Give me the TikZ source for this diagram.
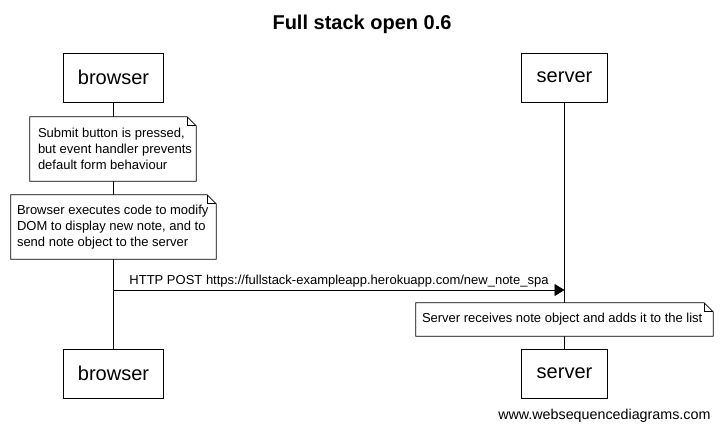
\documentclass[tikz,border=0pt]{standalone}
\usepackage{fontspec}
\setmainfont{Liberation Sans}
\usetikzlibrary{arrows.meta}
\begin{document}
\begin{tikzpicture}[x=1pt,y=-1pt,
  actor/.style={draw,fill=white,line width=0.8pt,minimum width=100pt,minimum height=49pt,inner sep=0pt,font=\fontsize{20}{24}\selectfont},
  notebox/.style={inner sep=0pt},
  notetext/.style={inner sep=0pt,align=left,anchor=west,font=\fontsize{13}{16}\selectfont},
  life/.style={line width=0.8pt},
  msg/.style={line width=0.8pt,-{Triangle[length=10pt,width=12pt]}},
  foldline/.style={line width=0.8pt,line join=miter}]
\useasboundingbox (0,0) rectangle (722,432);
\node[font=\bfseries\fontsize{20}{24}\selectfont] (title) at (362,24) {Full stack open 0.6};
\node[actor] (bt) at (113.5,77.5) {browser};
\node[actor,minimum width=86pt] (st) at (564.5,77.5) {server};
\node[actor] (bb) at (113.5,373.5) {browser};
\node[actor,minimum width=86pt] (sb) at (564.5,373.5) {server};
\draw[life] (bt.south) -- (bb.north);
\draw[life] (st.south) -- (sb.north);
% note 1
\node[notebox,minimum width=166pt,minimum height=64pt] (n1) at (113,149) {};
\draw[foldline,fill=white] (n1.south west) -- (n1.north west) -- ([xshift=-9pt]n1.north east) -- ([yshift=-9pt]n1.north east) -- (n1.south east) -- cycle;
\draw[foldline] ([xshift=-9pt]n1.north east) -- ([xshift=-9pt,yshift=-9pt]n1.north east) -- ([yshift=-9pt]n1.north east);
\node[notetext] (t1) at ([xshift=8pt]n1.west) {Submit button is pressed,\\but event handler prevents\\default form behaviour};
% note 2
\node[notebox,minimum width=205pt,minimum height=64pt] (n2) at (113.5,227) {};
\draw[foldline,fill=white] (n2.south west) -- (n2.north west) -- ([xshift=-9pt]n2.north east) -- ([yshift=-9pt]n2.north east) -- (n2.south east) -- cycle;
\draw[foldline] ([xshift=-9pt]n2.north east) -- ([xshift=-9pt,yshift=-9pt]n2.north east) -- ([yshift=-9pt]n2.north east);
\node[notetext] (t2) at ([xshift=6pt]n2.west) {Browser executes code to modify\\DOM to display new note, and to\\send note object to the server};
% message
\coordinate (m1) at (bt.south |- 0,290);
\coordinate (m2) at (st.south |- 0,290);
\draw[msg] (m1) -- node[above=0pt,inner sep=2.5pt,font=\fontsize{13}{15}\selectfont] (ml) {HTTP POST https://fullstack-exampleapp.herokuapp.com/new\_note\_spa} (m2);
% note 3
\node[notebox,minimum width=297pt,minimum height=33pt] (n3) at (564.5,319.5) {};
\draw[foldline,fill=white] (n3.south west) -- (n3.north west) -- ([xshift=-9pt]n3.north east) -- ([yshift=-9pt]n3.north east) -- (n3.south east) -- cycle;
\draw[foldline] ([xshift=-9pt]n3.north east) -- ([xshift=-9pt,yshift=-9pt]n3.north east) -- ([yshift=-9pt]n3.north east);
\node[notetext] (t3) at ([xshift=6pt]n3.west) {Server receives note object and adds it to the list};
\node[font=\fontsize{14.3}{16}\selectfont,anchor=east] (wm) at (714,416) {www.websequencediagrams.com};
\end{tikzpicture}
\end{document}
